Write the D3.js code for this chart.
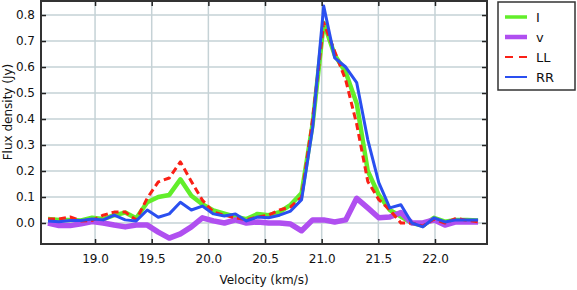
<!DOCTYPE html>
<html>
<head>
<meta charset="utf-8">
<script src="https://cdn.jsdelivr.net/npm/d3@7"></script>
<style>
  body { margin: 0; background: #fff; }
  svg { display: block; font-family: 'DejaVu Sans', sans-serif; }
</style>
</head>
<body>
<svg id="chart" width="577" height="290"></svg>
<script>
// channel velocities (km/s)
const velocity = [18.585, 18.682, 18.780, 18.877, 18.974, 19.072, 19.169, 19.266, 19.363, 19.461,
    19.558, 19.655, 19.753, 19.850, 19.947, 20.045, 20.142, 20.239, 20.336, 20.434,
    20.531, 20.628, 20.726, 20.823, 20.920, 21.018, 21.115, 21.212, 21.309, 21.407,
    21.504, 21.601, 21.699, 21.796, 21.893, 21.991, 22.088, 22.185, 22.282, 22.380]

const fluxI = [0.015, 0.012, 0.012, 0.010, 0.020, 0.015, 0.030, 0.040, 0.018, 0.080,
    0.100, 0.108, 0.168, 0.105, 0.072, 0.048, 0.036, 0.024, 0.015, 0.035,
    0.030, 0.042, 0.070, 0.115, 0.380, 0.770, 0.646, 0.580, 0.460, 0.200,
    0.108, 0.050, 0.025, 0.000, -0.010, 0.020, 0.005, 0.012, 0.012, 0.010]

const fluxV = [0.000, -0.010, -0.010, -0.003, 0.006, 0.000, -0.008, -0.015, -0.008, -0.008,
    -0.035, -0.058, -0.042, -0.015, 0.020, 0.008, 0.000, 0.012, 0.000, 0.004,
    0.000, 0.000, -0.004, -0.030, 0.012, 0.012, 0.004, 0.012, 0.095, 0.058,
    0.020, 0.023, 0.040, 0.000, 0.000, 0.012, -0.008, 0.004, 0.004, 0.004]

const fluxLL = [0.015, 0.015, 0.023, 0.008, 0.010, 0.030, 0.042, 0.042, 0.012, 0.096,
    0.158, 0.173, 0.235, 0.160, 0.088, 0.042, 0.030, 0.020, 0.012, 0.023,
    0.030, 0.050, 0.062, 0.100, 0.400, 0.770, 0.660, 0.550, 0.380, 0.160,
    0.090, 0.050, 0.000, 0.000, -0.012, 0.015, 0.000, 0.018, 0.010, 0.005]

const fluxRR = [0.008, 0.005, 0.010, 0.010, 0.015, 0.012, 0.030, 0.012, 0.008, 0.050,
    0.022, 0.035, 0.080, 0.050, 0.065, 0.035, 0.027, 0.035, 0.008, 0.023,
    0.020, 0.030, 0.046, 0.090, 0.365, 0.835, 0.635, 0.600, 0.540, 0.320,
    0.155, 0.058, 0.070, 0.000, -0.015, 0.020, 0.004, 0.012, 0.012, 0.012]

const xTicks = [19.0, 19.5, 20.0, 20.5, 21.0, 21.5, 22.0]
const yTicks = [0.0, 0.1, 0.2, 0.3, 0.4, 0.5, 0.6, 0.7, 0.8]

const series = [
    { name: 'I', values: fluxI, color: '#62ee2a', width: 4.5, dash: null },
    { name: 'v', values: fluxV, color: '#b04ff0', width: 5.5, dash: null },
    { name: 'LL', values: fluxLL, color: '#fa2016', width: 3, dash: '7,4' },
    { name: 'RR', values: fluxRR, color: '#2a4ff0', width: 3, dash: null }
]

const svg = d3.select('#chart')
const plotLeft = 41, plotRight = 487, plotTop = 1, plotBottom = 244

const x = d3.scaleLinear().domain([18.523, 22.459]).range([plotLeft, plotRight])
const y = d3.scaleLinear().domain([-0.0808, 0.854]).range([plotBottom, plotTop])

// grid
svg.append('g')
    .selectAll('line')
    .data(xTicks)
    .join('line')
    .attr('x1', d => x(d)).attr('x2', d => x(d))
    .attr('y1', plotTop).attr('y2', plotBottom)
    .attr('stroke', '#c5d2d6').attr('stroke-width', 1.5)
svg.append('g')
    .selectAll('line')
    .data(yTicks)
    .join('line')
    .attr('x1', plotLeft).attr('x2', plotRight)
    .attr('y1', d => y(d)).attr('y2', d => y(d))
    .attr('stroke', '#c5d2d6').attr('stroke-width', 1.5)

// lines
const line = d3.line()
    .x((d, i) => x(velocity[i]))
    .y(d => y(d))

svg.append('g')
    .selectAll('path')
    .data(series)
    .join('path')
    .attr('d', s => line(s.values))
    .attr('fill', 'none')
    .attr('stroke', s => s.color)
    .attr('stroke-width', s => s.width)
    .attr('stroke-dasharray', s => s.dash)
    .attr('stroke-linejoin', 'round')

// axes (inward ticks on all sides)
const axisStyle = g => {
    g.select('.domain').remove()
    g.selectAll('.tick line').attr('stroke', '#222').attr('stroke-width', 1.5)
    g.selectAll('.tick text').attr('fill', '#111').attr('font-size', 12)
        .attr('font-family', 'DejaVu Sans, sans-serif')
}
svg.append('g').attr('transform', `translate(0,${plotBottom})`)
    .call(d3.axisBottom(x).tickValues(xTicks).tickFormat(d3.format('.1f')).tickSizeInner(-5).tickPadding(10))
    .call(axisStyle)
svg.append('g').attr('transform', `translate(0,${plotTop})`)
    .call(d3.axisTop(x).tickValues(xTicks).tickFormat('').tickSizeInner(-5))
    .call(axisStyle)
svg.append('g').attr('transform', `translate(${plotLeft},0)`)
    .call(d3.axisLeft(y).tickValues(yTicks).tickFormat(d3.format('.1f')).tickSizeInner(-5).tickPadding(6))
    .call(axisStyle)
svg.append('g').attr('transform', `translate(${plotRight},0)`)
    .call(d3.axisRight(y).tickValues(yTicks).tickFormat('').tickSizeInner(-5))
    .call(axisStyle)

svg.append('rect')
    .attr('x', plotLeft).attr('y', plotTop)
    .attr('width', plotRight - plotLeft).attr('height', plotBottom - plotTop)
    .attr('fill', 'none').attr('stroke', '#333').attr('stroke-width', 2)

// axis titles
svg.append('text')
    .attr('x', (plotLeft + plotRight) / 2).attr('y', 284)
    .attr('text-anchor', 'middle').attr('font-size', 12).attr('fill', '#111')
    .text('Velocity (km/s)')
svg.append('text')
    .attr('transform', 'translate(12,112) rotate(-90)')
    .attr('text-anchor', 'middle').attr('font-size', 12).attr('fill', '#111')
    .text('Flux density (Jy)')

// legend
const legend = svg.append('g')
legend.append('rect')
    .attr('x', 498).attr('y', 2).attr('width', 77).attr('height', 88)
    .attr('fill', '#fff').attr('stroke', '#333').attr('stroke-width', 1.5)
const item = legend.selectAll('g')
    .data(series)
    .join('g')
    .attr('transform', (d, i) => `translate(0,${17 + i * 20})`)
item.append('line')
    .attr('x1', 505).attr('x2', 527)
    .attr('stroke', d => d.color)
    .attr('stroke-width', d => d.width - 1)
    .attr('stroke-dasharray', d => d.dash ? '8,6' : null)
item.append('text')
    .attr('x', 536).attr('y', 5)
    .attr('font-size', 13).attr('fill', '#111')
    .text(d => d.name)
</script>
</body>
</html>
